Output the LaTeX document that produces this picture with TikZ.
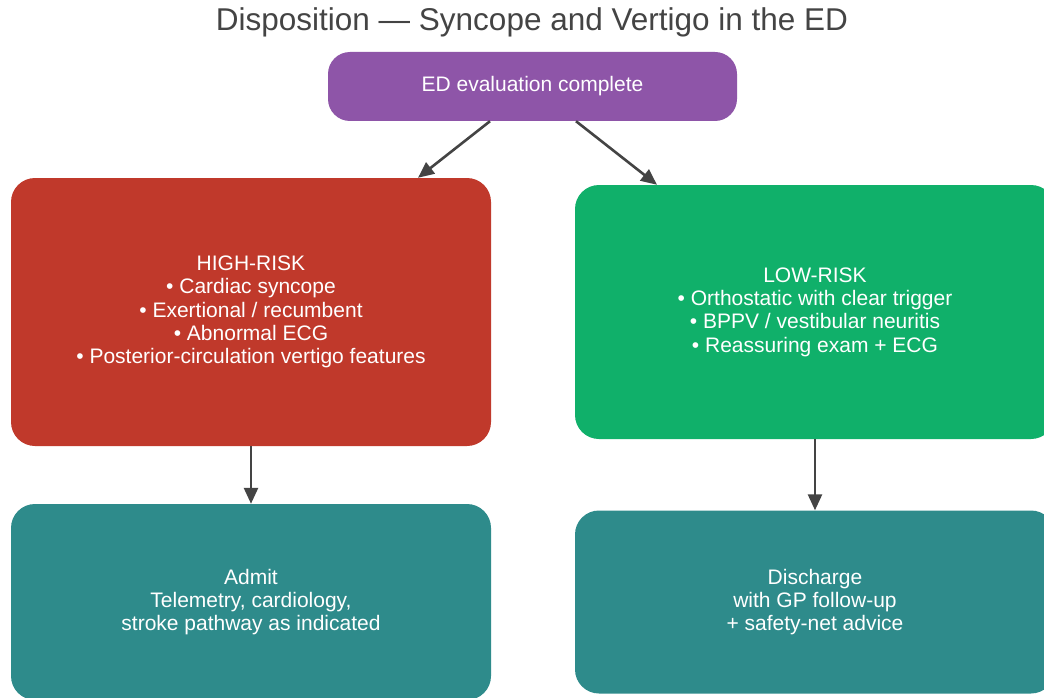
\documentclass[tikz,border=0pt]{standalone}
\usepackage{fontspec}
\setmainfont{Liberation Sans}
\usetikzlibrary{arrows.meta,calc}

\definecolor{startpurple}{HTML}{8E55A8}
\definecolor{riskred}{HTML}{C0392B}
\definecolor{riskgreen}{HTML}{10B06A}
\definecolor{outcometeal}{HTML}{2E8B8B}
\definecolor{linkgray}{HTML}{444444}
\definecolor{titlegray}{HTML}{444444}

\tikzset{
  box/.style={rounded corners=24pt, draw=none, text=white, align=center,
    inner sep=0pt, font=\fontsize{21}{23.4}\selectfont},
  startbox/.style={box, fill=startpurple, rounded corners=22pt,
    minimum width=409pt, minimum height=69pt},
  riskbox/.style={box, minimum width=480pt},
  outbox/.style={box, fill=outcometeal, minimum width=480pt},
  link/.style={draw=linkgray, line width=2.6pt,
    -{Triangle[length=16pt,width=14pt]}}
}

\begin{document}
\begin{tikzpicture}[x=1pt, y=-1pt]
  % canvas
  \fill[white] (0,0) rectangle (1044,698);
  \clip (0,0) rectangle (1044,698);

  % title
  \node[text=titlegray, font=\fontsize{31.5}{36}\selectfont] (title) at (532,22)
    {Disposition — Syncope and Vertigo in the ED};

  % nodes
  \node[startbox] (start) at (532.5,86.5) {ED evaluation complete};

  \node[riskbox, fill=riskred, minimum height=268pt] (high) at (251,312)
    {HIGH-RISK\\• Cardiac syncope\\• Exertional / recumbent\\• Abnormal ECG\\• Posterior-circulation vertigo features};

  \node[riskbox, fill=riskgreen, minimum height=254pt] (low) at (815,312)
    {LOW-RISK\\• Orthostatic with clear trigger\\• BPPV / vestibular neuritis\\• Reassuring exam + ECG};

  \node[outbox, minimum height=196pt] (admit) at (251,602)
    {Admit\\Telemetry, cardiology,\\stroke pathway as indicated};

  \node[outbox, minimum height=183pt] (discharge) at (815,602)
    {Discharge\\with GP follow-up\\+ safety-net advice};

  % connectors
  \draw[link] ($(start.south)+(-42.5,0)$) -- ($(high.north)+(167,0)$);
  \draw[link] ($(start.south)+(43.5,0)$) -- ($(low.north)+(-158,0)$);
  \draw[link] (high.south) -- (admit.north);
  \draw[link] (low.south) -- (discharge.north);
\end{tikzpicture}
\end{document}
